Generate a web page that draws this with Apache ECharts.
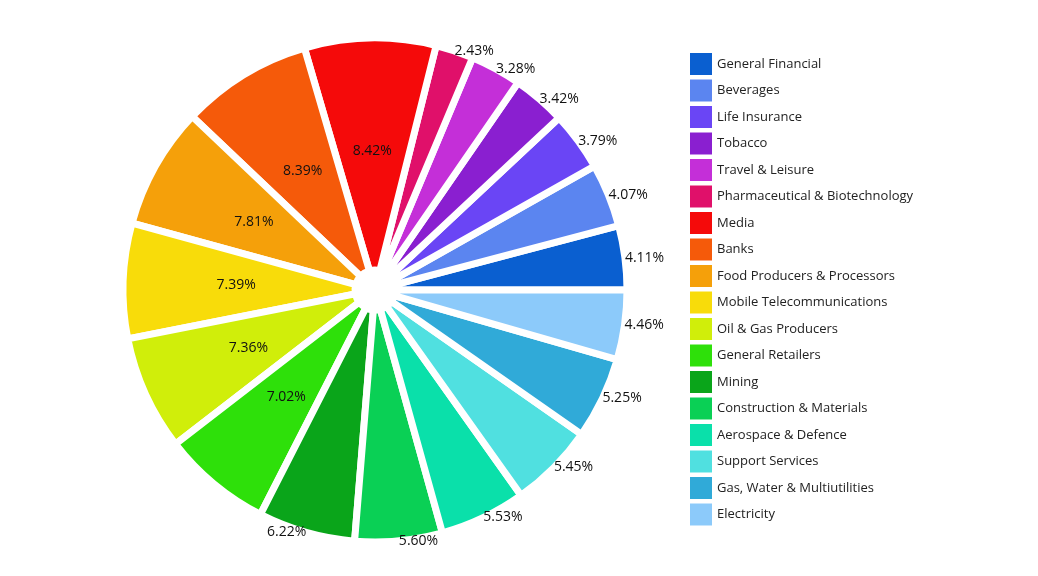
<!DOCTYPE html>
<html><head><meta charset="utf-8">
<script src="https://cdn.jsdelivr.net/npm/echarts@6/dist/echarts.min.js"></script>
<style>html,body{margin:0;background:#fff}#c{width:1038px;height:576px}</style>
</head><body><div id="c"></div>
<script>
const categories = ["General Financial","Beverages","Life Insurance","Tobacco","Travel & Leisure","Pharmaceutical & Biotechnology","Media","Banks","Food Producers & Processors","Mobile Telecommunications","Oil & Gas Producers","General Retailers","Mining","Construction & Materials","Aerospace & Defence","Support Services","Gas, Water & Multiutilities","Electricity"];
const values = [4.11,4.07,3.79,3.42,3.28,2.43,8.42,8.39,7.81,7.39,7.36,7.02,6.22,5.60,5.53,5.45,5.25,4.46];
const colors = ["#0a5fd0","#5b85f0","#6a45f5","#8a1fd0","#c42fd8","#e0106a","#f50a0a","#f55a0a","#f5a00a","#f8dc0a","#d0ee0a","#2ee00a","#0aa51a","#0ad055","#0ae0aa","#50e0e0","#30aad8","#8ccafa"];
const chart = echarts.init(document.getElementById('c'));
chart.setOption({
  legend:{orient:'vertical',left:690,top:53,itemWidth:22,itemHeight:22,itemGap:4.5,icon:'rect',padding:0,
    itemStyle:{borderWidth:0},
    textStyle:{fontSize:13,color:'#222',fontFamily:'Open Sans',lineHeight:16}},
  series:[{type:'pie',center:[375,290],radius:[20,252],startAngle:0,clockwise:false,
    color:colors,
    itemStyle:{borderColor:'#fff',borderWidth:7},
    labelLine:{show:false,length:0,length2:0},
    data:categories.map((n,i)=>({name:n,value:values[i],
      label:{show:true,position:values[i]>=7?'inside':'outside',formatter:v=>v.value.toFixed(2)+'%',
        fontSize:14,color:'#111',fontFamily:'Open Sans',fontWeight:500,distanceToLabelLine:0}}))
  }]
});
</script></body></html>
